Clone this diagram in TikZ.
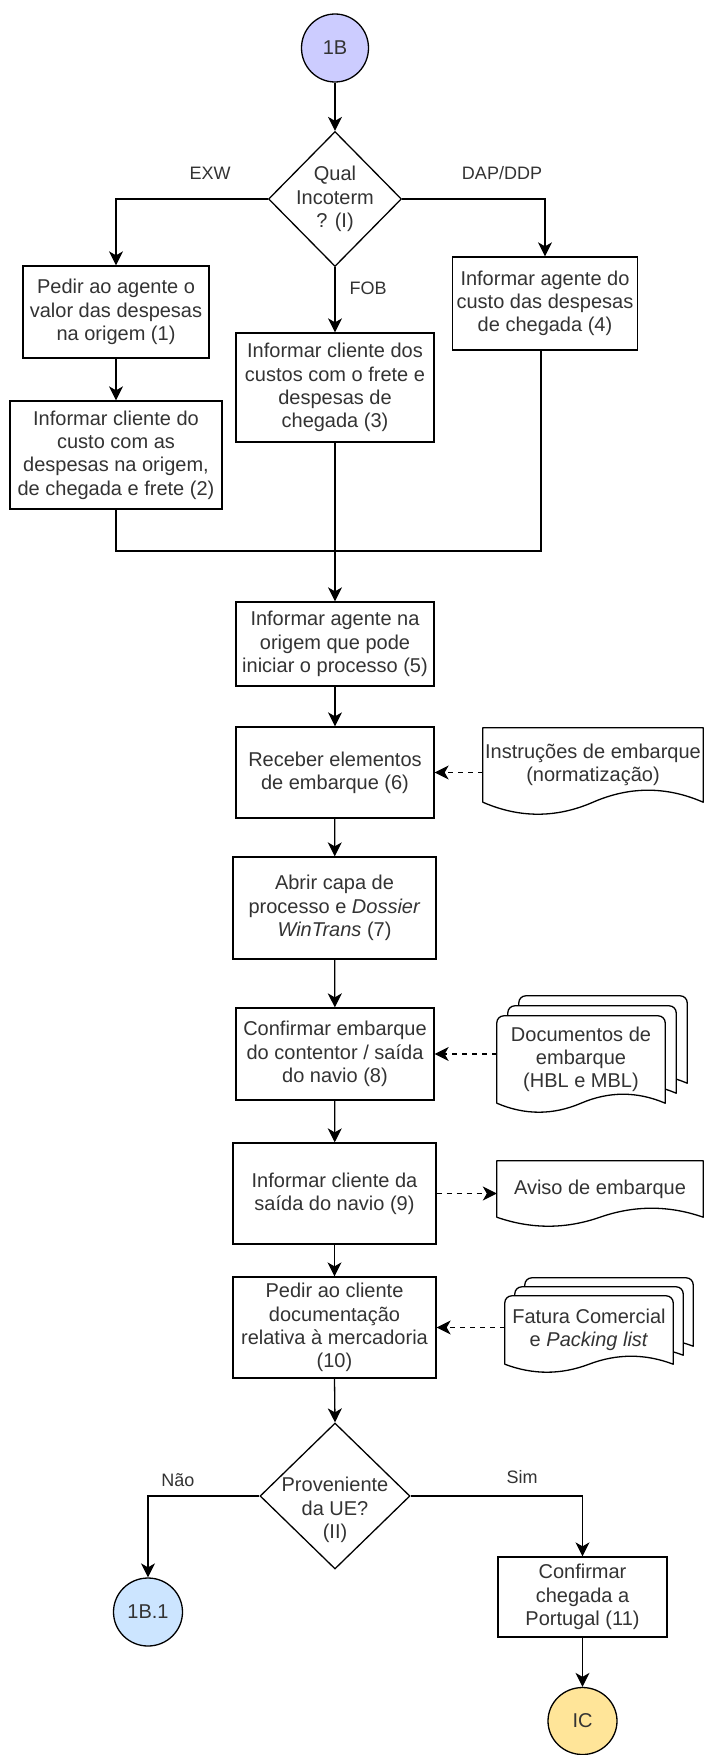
\documentclass[tikz,border=0pt]{standalone}
\usepackage{fontspec}
\setmainfont{Liberation Sans}
\usetikzlibrary{shapes.geometric,arrows.meta,calc}
\pgfdeclarelayer{background}
\pgfsetlayers{background,main}

\definecolor{inktext}{HTML}{333333}
\definecolor{startfill}{HTML}{CCCCFF}
\definecolor{linkfill}{HTML}{CCE5FF}
\definecolor{endfill}{HTML}{FFE599}

% paper sheet with a wavy lower edge, drawn behind node #1
% #2 wave amplitude, #3 radius of the two top corners
\newcommand\sheetoutline[3]{%
  \begin{pgfonlayer}{background}
  \draw[sheet]
    (#1.south west) -- ([yshift=-#3]#1.north west)
    arc[start angle=180,end angle=90,radius=#3]
    -- ([xshift=-#3]#1.north east)
    arc[start angle=90,end angle=0,radius=#3]
    -- (#1.south east)
    .. controls ($(#1.south east)!1/6!(#1.south west)+(0pt,{1.3333*#2})$)
            and ($(#1.south east)!1/3!(#1.south west)+(0pt,{1.3333*#2})$)
    .. ($(#1.south east)!1/2!(#1.south west)$)
    .. controls ($(#1.south east)!2/3!(#1.south west)-(0pt,{1.3333*#2})$)
            and ($(#1.south east)!5/6!(#1.south west)-(0pt,{1.3333*#2})$)
    .. (#1.south west) -- cycle;
  \end{pgfonlayer}}

\begin{document}
\begin{tikzpicture}[x=1pt,y=-1pt,
  every node/.style={font=\fontsize{20}{23.3}\selectfont,text=inktext},
  stepbox/.style={draw,line width=1.3pt,rectangle,inner sep=0pt,align=center},
  decision/.style={draw,line width=1.3pt,diamond,inner sep=0pt},
  terminal/.style={draw,line width=1.3pt,ellipse,inner sep=0pt},
  sheetarea/.style={rectangle,inner sep=0pt,align=center},
  sheet/.style={draw,line width=1.3pt,fill=white,line join=round},
  flow/.style={draw,line width=1.3pt,-{Stealth[length=14pt,width=14pt,inset=4pt]}},
  dataflow/.style={flow,dash pattern=on 5pt off 5pt},
  link/.style={draw,line width=1.3pt},
  branch/.style={font=\fontsize{18}{21}\selectfont,inner sep=0pt}]

\useasboundingbox (0,0) rectangle (705,1755);
\begin{pgfonlayer}{background}
  \fill[white] (0,0) rectangle (705,1755);
\end{pgfonlayer}

% ---- start and first decision
\node[terminal,fill=startfill,minimum width=67pt,minimum height=68pt] (start) at (335,48) {1B};
\node[decision,minimum width=133pt,minimum height=135pt] (incoterm) at (335,199) {};
\node[align=center] (incotermtext) at (incoterm.center) {Qual\\Incoterm\\? (I)};

% ---- the three incoterm branches
\node[stepbox,minimum width=186pt,minimum height=92pt] (s1) at (116,312)
  {Pedir ao agente o\\valor das despesas\\na origem (1)};
\node[stepbox,minimum width=212pt,minimum height=108pt] (s2) at (116,455)
  {Informar cliente do\\custo com as\\despesas na origem,\\de chegada e frete (2)};
\node[stepbox,minimum width=198pt,minimum height=109pt] (s3) at (335,387.5)
  {Informar cliente dos\\custos com o frete e\\despesas de\\chegada (3)};
\node[stepbox,minimum width=185pt,minimum height=93pt] (s4) at (545,303.5)
  {Informar agente do\\custo das despesas\\de chegada (4)};
\coordinate (join) at (335,551);

% ---- main sequence
\node[stepbox,minimum width=198pt,minimum height=84pt] (s5) at (335,644)
  {Informar agente na\\origem que pode\\iniciar o processo (5)};
\node[stepbox,minimum width=198pt,minimum height=91pt] (s6) at (335,772.5)
  {Receber elementos\\de embarque (6)};
\node[stepbox,minimum width=203pt,minimum height=102pt] (s7) at (334.5,908)
  {Abrir capa de\\processo e \textit{Dossier}\\\textit{WinTrans} (7)};
\node[stepbox,minimum width=198pt,minimum height=92pt] (s8) at (335,1054)
  {Confirmar embarque\\do contentor / saída\\do navio (8)};
\node[stepbox,minimum width=203pt,minimum height=101pt] (s9) at (334.5,1193.5)
  {Informar cliente da\\saída do navio (9)};
\node[stepbox,minimum width=203pt,minimum height=101pt] (s10) at (334.5,1327.5)
  {Pedir ao cliente\\documentação\\relativa à mercadoria\\(10)};

% ---- second decision and its outcomes
\node[decision,minimum width=150pt,minimum height=146pt] (origin) at (335,1496) {};
\node[align=center] (origintext) at (335,1510) {Proveniente\\da UE?\\(II)};
\node[terminal,fill=linkfill,minimum width=69pt,minimum height=68pt] (link) at (148,1612) {1B.1};
\node[stepbox,minimum width=169pt,minimum height=80pt] (s11) at (582.5,1597)
  {Confirmar\\chegada a\\Portugal (11)};
\node[terminal,fill=endfill,minimum width=69pt,minimum height=67pt] (end) at (582.5,1721) {IC};

% ---- documents
\node[sheetarea,minimum width=220pt,minimum height=74pt] (instr) at (593,765)
  {Instruções de embarque\\(normatização)};
\sheetoutline{instr}{12pt}{0.1pt}

\node[sheetarea,minimum width=168pt,minimum height=87pt] (bl3) at (603,1039.5) {};
\node[sheetarea,minimum width=168pt,minimum height=87pt] (bl2) at (592,1049.5) {};
\node[sheetarea,minimum width=168pt,minimum height=87pt] (bl) at (581,1059.5)
  {Documentos de\\embarque\\(HBL e MBL)};
\sheetoutline{bl3}{9pt}{7pt}
\sheetoutline{bl2}{9pt}{7pt}
\sheetoutline{bl}{9pt}{7pt}

\node[sheetarea,minimum width=206pt,minimum height=56pt] (notice) at (600,1189)
  {Aviso de embarque};
\sheetoutline{notice}{9pt}{0.1pt}

\node[sheetarea,minimum width=168pt,minimum height=68pt] (inv3) at (609,1312) {};
\node[sheetarea,minimum width=168pt,minimum height=68pt] (inv2) at (599,1321) {};
\node[sheetarea,minimum width=168pt,minimum height=68pt] (inv) at (589,1330)
  {Fatura Comercial\\e \textit{Packing list}};
\sheetoutline{inv3}{8pt}{7pt}
\sheetoutline{inv2}{8pt}{7pt}
\sheetoutline{inv}{8pt}{7pt}

% ---- branch labels
\node[branch] (exw) at (210,173) {EXW};
\node[branch] (dap) at (502,173) {DAP/DDP};
\node[branch] (fob) at (368,288) {FOB};
\node[branch] (nao) at (178,1480) {Não};
\node[branch] (sim) at (522,1477) {Sim};

% ---- connectors
\draw[flow] (start) -- (incoterm);
\draw[flow] (incoterm.west) -| (s1.north);
\draw[flow] (incoterm.east) -| (s4.north);
\draw[flow] (incoterm.south) -- (s3.north);
\draw[flow] (s1) -- (s2);
\draw[link] (s2.south) |- (join);
\draw[link] ([xshift=-4pt]s4.south) |- (join);
\draw[flow] (s3.south) -- (s5.north);
\draw[flow] (s5) -- (s6);
\draw[flow] (s6) -- (s7);
\draw[flow] (s7) -- (s8);
\draw[flow] (s8) -- (s9);
\draw[flow] (s9) -- (s10);
\draw[flow] (s10.south) -- (origin.north);
\draw[flow] (origin.west) -| (link.north);
\draw[flow] (origin.east) -| (s11.north);
\draw[flow] (s11) -- (end);

\draw[dataflow] (instr.west |- s6.east) -- (s6.east);
\draw[dataflow] (bl.west |- s8.east) -- (s8.east);
\draw[dataflow] (s9.east) -- (notice.west |- s9.east);
\draw[dataflow] (inv.west |- s10.east) -- (s10.east);
\end{tikzpicture}
\end{document}
